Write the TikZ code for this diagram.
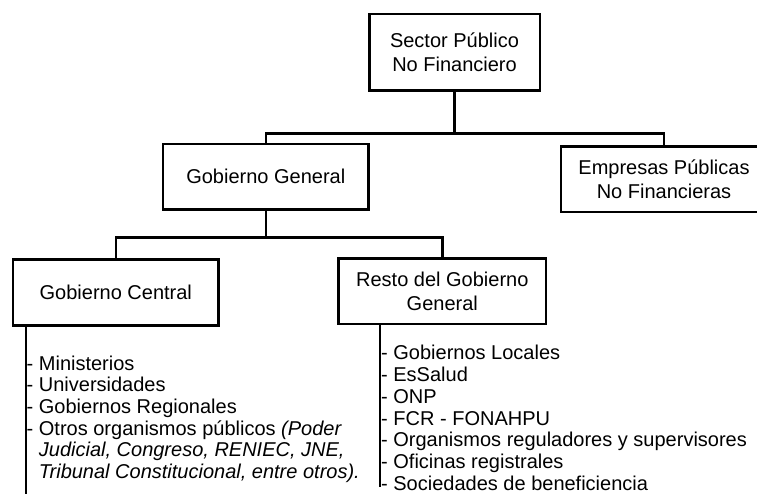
\documentclass[tikz,border=0pt]{standalone}
\usepackage{fontspec}
\setmainfont{Liberation Sans}
\begin{document}
\begin{tikzpicture}[x=1pt,y=-1pt,
  box/.style={draw, line width=2.5pt, align=center, inner sep=0pt, font=\fontsize{20}{23.5}\selectfont},
  conn/.style={line width=2.5pt},
  list/.style={align=left, anchor=west, inner sep=0pt, font=\fontsize{20}{21.7}\selectfont}]
\useasboundingbox (0,0) rectangle (757,493);
\clip (0,0) rectangle (757,493);
\node[box, minimum width=170.5pt, minimum height=76.5pt] (spnf) at (454.5,52.2) {Sector Público\\No Financiero};
\node[box, minimum width=205.8pt, minimum height=65.5pt] (gg) at (265.8,176.7) {Gobierno General};
\node[box, minimum width=205.8pt, minimum height=65.8pt] (epnf) at (664,179.2) {Empresas Públicas\\No Financieras};
\node[box, minimum width=205.8pt, minimum height=65.9pt] (gc) at (115.8,292.5) {Gobierno Central};
\node[box, minimum width=207.5pt, minimum height=65.2pt] (rgg) at (442.3,291.2) {Resto del Gobierno\\General};
\coordinate (j1) at (454.5,133.3);
\coordinate (j2) at (265.8,237.3);
\draw[conn] (spnf.south) -- (j1);
\draw[conn] (gg.north) |- (j1) -| (epnf.north);
\draw[conn] (gg.south) -- (j2);
\draw[conn] (gc.north) |- (j2) -| (rgg.north);
\coordinate (gcend) at (26,500);
\coordinate (rend) at (380,487);
\draw[conn] (gc.south -| gcend) -- (gcend);
\draw[conn] (rgg.south -| rend) -- (rend);
\node[list] (gcl) at (26.5,419.2) {- Ministerios\\- Universidades\\- Gobiernos Regionales\\- Otros organismos públicos \textit{(Poder}\\\hphantom{- }\textit{Judicial, Congreso, RENIEC, JNE,}\\\hphantom{- }\textit{Tribunal Constitucional, entre otros).}};
\node[list] (rggl) at (381,417.9) {- Gobiernos Locales\\- EsSalud\\- ONP\\- FCR - FONAHPU\\- Organismos reguladores y supervisores\\- Oficinas registrales\\- Sociedades de beneficiencia};
\end{tikzpicture}
\end{document}
